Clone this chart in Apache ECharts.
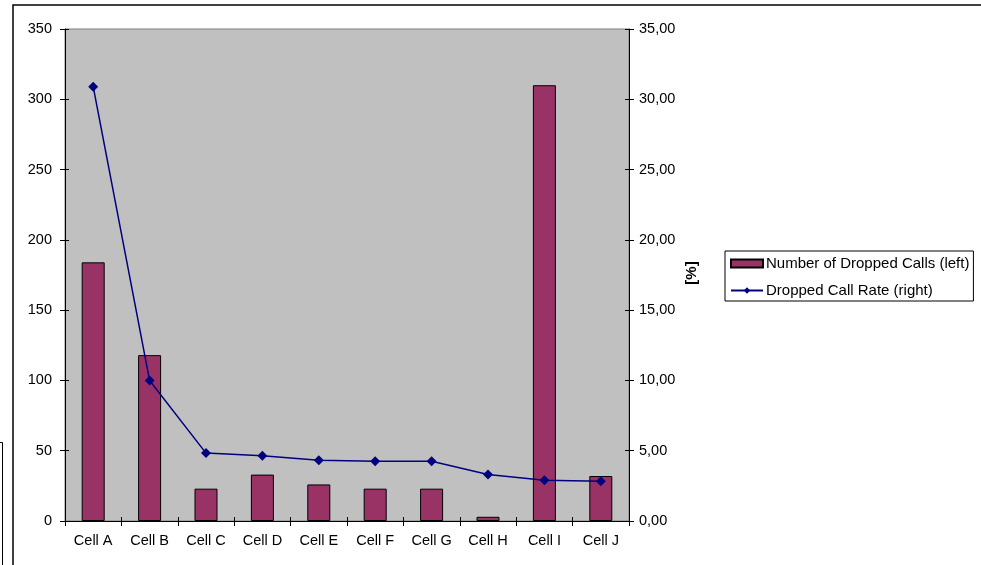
<!DOCTYPE html>
<html><head><meta charset="utf-8">
<script src="https://cdn.jsdelivr.net/npm/echarts@6/dist/echarts.min.js"></script>
<style>html,body{margin:0;padding:0;background:#fff}#c{width:981px;height:565px}</style>
</head><body><div id="c"></div>
<script>
const categories = ['Cell A','Cell B','Cell C','Cell D','Cell E','Cell F','Cell G','Cell H','Cell I','Cell J'];
const droppedCalls = [184, 118, 23, 33, 26, 23, 23, 3, 310, 32];
const dropRate = [30.9, 10.0, 4.83, 4.65, 4.33, 4.25, 4.25, 3.31, 2.9, 2.83];
const leftTicks = {min: 0, max: 350, interval: 50};
const rightTicks = {min: 0, max: 35, interval: 5};

const FONT = 'Liberation Sans, Arial, sans-serif';
const chart = echarts.init(document.getElementById('c'), null, {renderer: 'canvas'});
const lbl = {color: '#000', fontFamily: FONT, fontSize: 14.5};
const hidden = {axisLabel: {show: false}, axisLine: {show: false}, splitLine: {show: false}};
chart.setOption({
  animation: false,
  backgroundColor: '#fff',
  grid: {left: 65, top: 29, width: 564, height: 492, show: true, backgroundColor: '#C0C0C0', borderColor: '#808080', borderWidth: 1, containLabel: false},
  legend: {
    orient: 'vertical', left: 725, top: 251,
    padding: [5, 4, 3, 5], itemGap: 12, itemWidth: 32, itemHeight: 8,
    backgroundColor: '#fff', borderColor: '#000', borderWidth: 1, borderRadius: 0,
    textStyle: {color: '#000', fontFamily: FONT, fontSize: 15, padding: [0,0,0,-2]},
    data: [
      {name: 'Number of Dropped Calls (left)', icon: 'rect'},
      {name: 'Dropped Call Rate (right)'}
    ]
  },
  xAxis: [
    {type: 'category', data: categories, position: 'bottom',
     axisLine: {lineStyle: {color: '#000', width: 1}},
     axisTick: {show: true, length: 5, lineStyle: {color: '#000'}},
     axisLabel: Object.assign({margin: 12, interval: 0}, lbl),
     splitLine: {show: false}},
    Object.assign({type: 'category', data: categories, position: 'bottom',
     axisTick: {show: true, inside: true, length: 4, lineStyle: {color: '#000'}}}, hidden)
  ],
  yAxis: [
    {type: 'value', position: 'left', min: leftTicks.min, max: leftTicks.max, interval: leftTicks.interval,
     axisLine: {show: true, lineStyle: {color: '#000'}},
     axisTick: {show: true, length: 5, lineStyle: {color: '#000'}},
     axisLabel: Object.assign({margin: 13}, lbl), splitLine: {show: false}},
    {type: 'value', position: 'right', min: rightTicks.min, max: rightTicks.max, interval: rightTicks.interval,
     axisLine: {show: true, lineStyle: {color: '#000'}},
     axisTick: {show: true, length: 5, lineStyle: {color: '#000'}},
     axisLabel: Object.assign({margin: 10, formatter: v => v.toFixed(2).replace('.', ',')}, lbl),
     splitLine: {show: false}},
    Object.assign({type: 'value', position: 'left', min: leftTicks.min, max: leftTicks.max, interval: leftTicks.interval,
     axisTick: {show: true, inside: true, length: 4, lineStyle: {color: '#000'}}}, hidden),
    Object.assign({type: 'value', position: 'right', min: rightTicks.min, max: rightTicks.max, interval: rightTicks.interval,
     axisTick: {show: true, inside: true, length: 4, lineStyle: {color: '#000'}}}, hidden)
  ],
  series: [
    {name: 'Number of Dropped Calls (left)', type: 'bar', data: droppedCalls, xAxisIndex: 0, yAxisIndex: 0,
     barWidth: 23, itemStyle: {color: '#993366', borderColor: '#000', borderWidth: 1}},
    {name: 'Dropped Call Rate (right)', type: 'line', data: dropRate, xAxisIndex: 0, yAxisIndex: 1,
     symbol: 'diamond', symbolSize: 10, showSymbol: true,
     lineStyle: {color: '#000080', width: 1.5}, itemStyle: {color: '#000080'}, z: 5}
  ],
  graphic: [
    {type: 'rect', shape: {x: 13, y: 5, width: 1000, height: 600}, style: {fill: 'none', stroke: '#000', lineWidth: 1.5}, silent: true, z: -1},
    {type: 'polyline', shape: {points: [[0, 442.5], [2.5, 442.5], [2.5, 566]]}, style: {fill: 'none', stroke: '#000', lineWidth: 1}},
    {type: 'text', x: 692, y: 273, rotation: Math.PI / 2, style: {text: '[%]', fill: '#000', font: 'bold 15px ' + FONT, align: 'center', verticalAlign: 'middle'}}
  ]
});
</script></body></html>
